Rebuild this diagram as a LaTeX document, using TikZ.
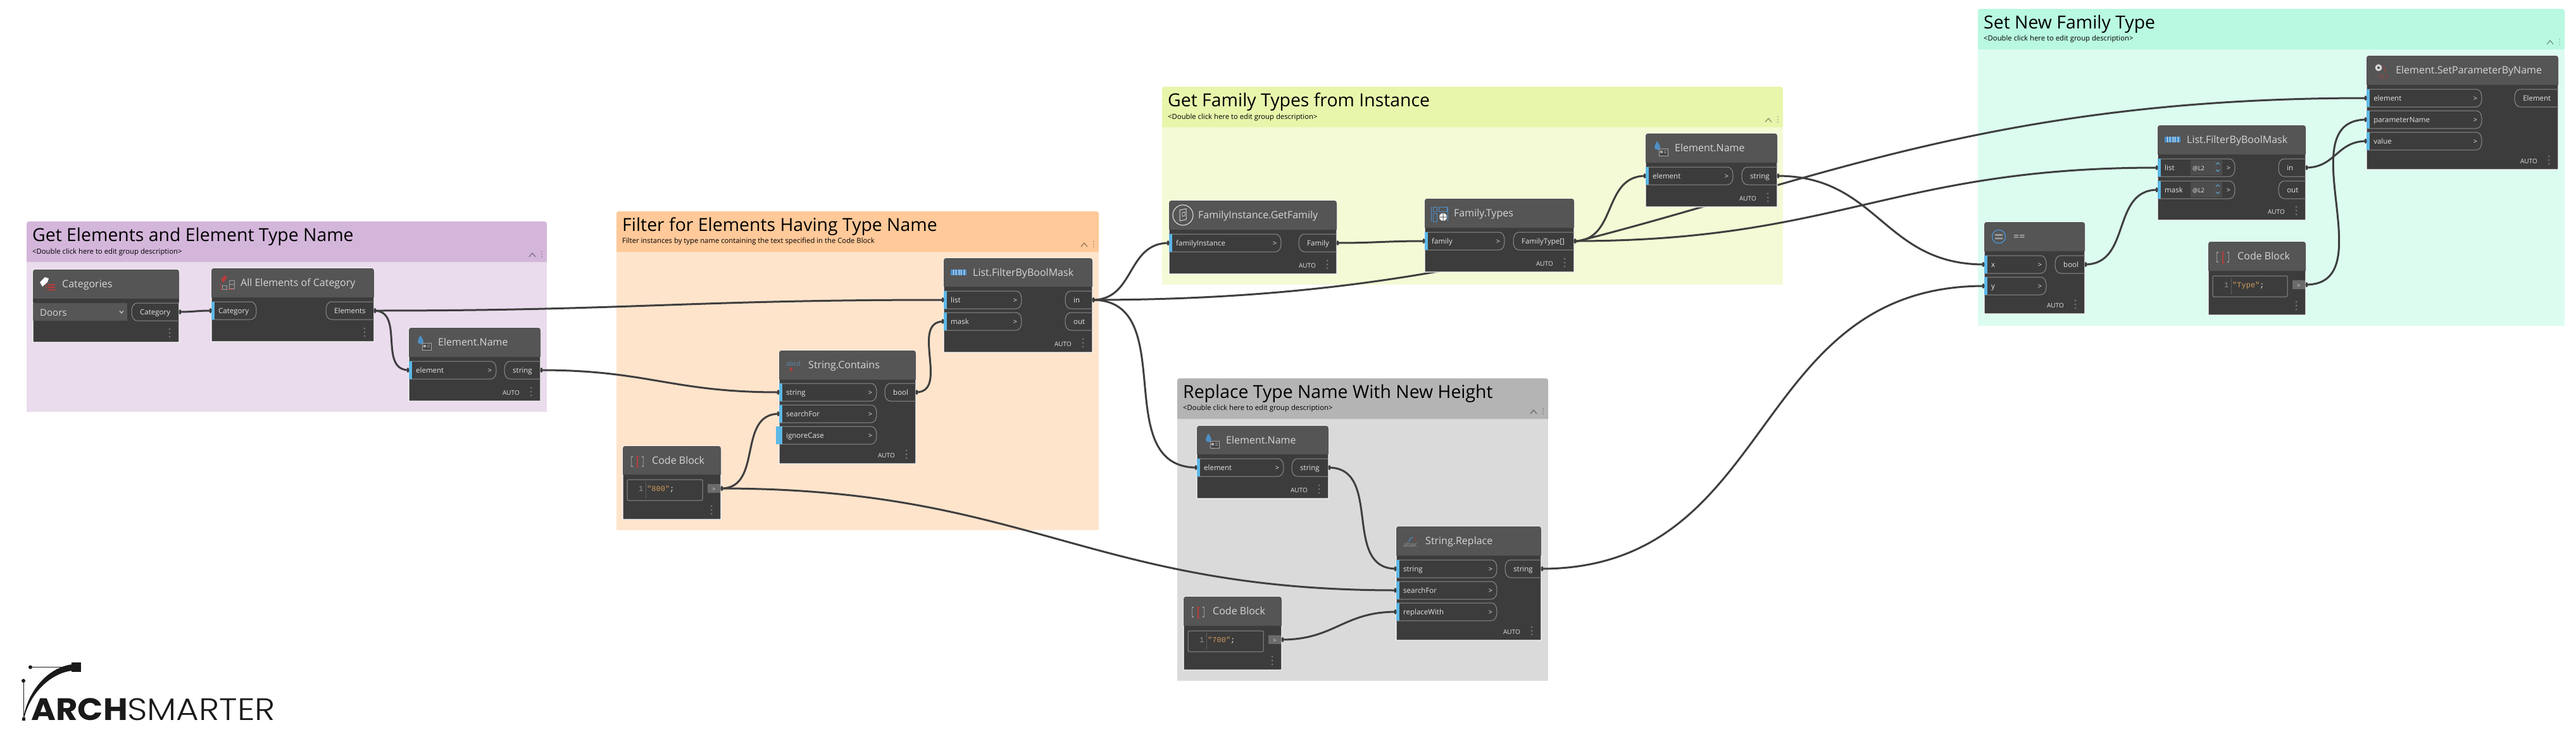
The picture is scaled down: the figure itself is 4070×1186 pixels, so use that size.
\documentclass[tikz,border=0pt]{standalone}
\usepackage{fontspec}
\usetikzlibrary{calc}
\setmainfont{Open Sans}
\newfontfamily\codefont{Liberation Mono}
\newfontfamily\logofont[FakeStretch=1.08]{Poppins}
\newfontfamily\logolight[FakeStretch=1.12]{Poppins Light}
\definecolor{bodyc}{HTML}{3C3C3C}
\definecolor{hdrc}{HTML}{555555}
\definecolor{wirec}{HTML}{3F3F3F}
\definecolor{pillc}{HTML}{8C8C8C}
\definecolor{portblue}{HTML}{5CB8E6}
\definecolor{titlec}{HTML}{D6D6D6}
\definecolor{labelc}{HTML}{E4E4E4}
\definecolor{dotc}{HTML}{777777}
\definecolor{codeorange}{HTML}{CE9A5E}
\definecolor{iconred}{HTML}{B83C3C}
\definecolor{iconblue}{HTML}{4C8FC9}
\pgfdeclarelayer{grp}\pgfdeclarelayer{wires}\pgfsetlayers{grp,wires,main}
\tikzset{
  wire/.style={draw=wirec,line width=3pt},
  ntitle/.style={anchor=base west,inner sep=0pt,text=titlec,font=\fontsize{16}{18}\selectfont},
  plabel/.style={anchor=base west,inner sep=0pt,text=labelc,font=\fontsize{11.5}{13}\selectfont},
  pchev/.style={anchor=base,inner sep=0pt,text=labelc,font=\fontsize{11}{13}\selectfont},
  autolbl/.style={anchor=base east,inner sep=0pt,text=labelc,font=\fontsize{10}{11}\selectfont},
  gtitle/.style={anchor=base west,inner sep=0pt,text=black,font=\fontsize{28.4}{31}\selectfont},
  gdesc/.style={anchor=base west,inner sep=0pt,text=black,font=\fontsize{11.3}{13}\selectfont},
  pill/.style={draw=pillc,line width=1pt},
  codetxt/.style={anchor=base west,inner sep=0pt,font=\codefont\fontsize{12}{14}\selectfont},
  icontxt/.style={anchor=base west,inner sep=0pt,font=\fontsize{10}{12}\selectfont},
}
% name, x1,y1,x2,y2, header bottom, title
\newcommand\dyn[7]{%
  \draw[white,line width=1.2pt,fill=bodyc] (#2,#5) -- (#2,{#3+8}) .. controls (#2,#3) .. ({#2+8},#3) -- ({#4-8},#3) .. controls (#4,#3) .. (#4,{#3+8}) -- (#4,#5) -- cycle;
  \fill[hdrc] (#2,#6) -- (#2,{#3+8}) .. controls (#2,#3) .. ({#2+8},#3) -- ({#4-8},#3) .. controls (#4,#3) .. (#4,{#3+8}) -- (#4,#6) -- cycle;
  \node[ntitle] (#1) at ({#2+46},{#3+28}) {#7};
}
% three dots at right edge; x2,y2
\newcommand\ndots[2]{\foreach \k in {-21,-15,-9}{\fill[dotc] ({#1-15},{#2+\k}) circle (1.5pt);}}
\newcommand\autotag[3]{\node[autolbl] (#1) at ({#2-33},{#3-10}) {AUTO};\ndots{#2}{#3}}
% port name, x1, y, xend, label (no chevron)
\newcommand\dInputPlain[5]{%
  \draw[pill] (#2,{#3-14}) -- ({#4-10},{#3-14}) .. controls ({#4-2},{#3-14}) and (#4,{#3-8}) .. (#4,#3) .. controls (#4,{#3+8}) and ({#4-2},{#3+14}) .. ({#4-10},{#3+14}) -- (#2,{#3+14});
  \fill[portblue] (#2,{#3-14}) rectangle ({#2+5},{#3+14});
  \coordinate (#1) at (#2,#3);
  \node[plabel] (#1lbl) at ({#2+11},{#3+4}) {#5};
}
\newcommand\dInput[5]{%
  \dInputPlain{#1}{#2}{#3}{#4}{#5}
  \node[pchev] (#1chev) at ({#4-10},{#3+4}) {>};
}
% port name, xstart, y, xright, label
\newcommand\dOutput[5]{%
  \draw[pill] (#4,{#3-14}) -- ({#2+10},{#3-14}) .. controls ({#2+2},{#3-14}) and (#2,{#3-8}) .. (#2,#3) .. controls (#2,{#3+8}) and ({#2+2},{#3+14}) .. ({#2+10},{#3+14}) -- (#4,{#3+14});
  \coordinate (#1) at (#4,#3);
  \node[plabel] (#1lbl) at ({#2+13},{#3+4}) {#5};
}
\newcommand\codeblock[7]{% name x1 y1 x2 y2 headerb text
  \dyn{#1}{#2}{#3}{#4}{#5}{#6}{Code Block}
  \draw[pillc,line width=1pt,fill=bodyc,rounded corners=2pt] ({#2+7},{#6+8}) rectangle ({#4-29},{#6+41});
  \node[codetxt,text=dotc!80!white] (#1num) at ({#2+25},{#6+26}) {1};
  \draw[dotc,line width=.8pt,densely dotted] ({#2+36},{#6+11}) -- ({#2+36},{#6+38});
  \node[codetxt] (#1code) at ({#2+38},{#6+26}) {\textcolor{codeorange}{"#7"}\textcolor{labelc}{;}};
  \fill[dotc!90!black] ({#4-21},{#6+15}) rectangle ({#4-1},{#6+29});
  \node[pchev,font=\fontsize{9}{11}\selectfont] (#1arrow) at ({#4-11},{#6+26}) {>};
  \coordinate (#1out) at (#4,{#6+22});
  \ndots{#4}{#5}
  \draw[titlec!70!black,line width=1.2pt] ({#2+16},{#3+17}) -- ({#2+13.5},{#3+17}) -- ({#2+13.5},{#3+32}) -- ({#2+16},{#3+32});
  \draw[titlec!70!black,line width=1.2pt] ({#2+30},{#3+17}) -- ({#2+32.5},{#3+17}) -- ({#2+32.5},{#3+32}) -- ({#2+30},{#3+32});
  \draw[iconred,line width=1.5pt] ({#2+23},{#3+16}) -- ({#2+23},{#3+33});
  \draw[iconred,line width=.8pt] ({#2+20.5},{#3+16}) -- ({#2+25.5},{#3+16}) ({#2+20.5},{#3+33}) -- ({#2+25.5},{#3+33});
}
\newcommand\grp[6]{% x1 y1 x2 hdrb y2 colour
  \begin{pgfonlayer}{grp}
  \fill[#6!50!white] (#1,#4) rectangle (#3,#5);
  \fill[#6] (#1,#4) -- (#1,{#2+8}) .. controls (#1,#2) .. ({#1+8},#2) -- ({#3-8},#2) .. controls (#3,#2) .. (#3,{#2+8}) -- (#3,#4) -- cycle;
  \end{pgfonlayer}
  \draw[#6!60!black,line width=1.3pt] ({#3-28},{#4-8}) -- ({#3-23},{#4-14}) -- ({#3-18},{#4-8});
  \foreach \k in {-16,-12,-8}{\fill[#6!60!black] ({#3-8},{#4+\k}) circle (.8pt);}
}
\newcommand\wirelink[3][45]{%
  \path let \p1=(#2),\p2=(#3) in \pgfextra{\pgfmathsetmacro\wc{#1*veclen((\x2-\x1)/100,(\y2-\y1)/100)}\global\let\wcg\wc};
  \begin{pgfonlayer}{wires}\draw[wire] (#2) .. controls ([xshift=\wcg pt]#2) and ([xshift=-\wcg pt]#3) .. (#3);\end{pgfonlayer}
  \fill[wirec] ([xshift=1.5pt]#2) ellipse (2pt and 4pt);
  \fill[wirec] ([xshift=-1.5pt]#3) ellipse (2pt and 4pt);
}
% icons, placed relative to a node's top-left
\newcommand\iconName[2]{\begin{scope}[shift={(#1,#2)}]
  \fill[iconblue] (18,12) .. controls (22,18) and (23,20) .. (23,22) .. controls (23,27) and (14,27) .. (14,22) .. controls (14,20) and (15,18) .. (18,12) -- cycle;
  \draw[titlec!80!black,line width=1pt,fill=hdrc!80!black] (21,24) rectangle (35,35);
  \fill[titlec!80!black] (23,27) rectangle (27,31);
  \draw[titlec!80!black,line width=.7pt] (29,27.5) -- (33,27.5) (29,30) -- (33,30);
\end{scope}}
\newcommand\iconBars[2]{\begin{scope}[shift={(#1,#2)}]
  \fill[iconblue] (11,18) rectangle (36,27);
  \foreach \k in {15,19,24,27,32}{\fill[white!85!iconblue] (\k,18) rectangle ({\k+1},27);}
\end{scope}}
\begin{document}
\begin{tikzpicture}[x=1pt,y=-1pt]
\useasboundingbox (0,0) rectangle (4070,1186);

% ---------- groups
\definecolor{gp}{HTML}{D4B6DB}\definecolor{go}{HTML}{FFC999}\definecolor{gl}{HTML}{E8F6AC}\definecolor{gg}{HTML}{B9F9E1}\definecolor{gy}{HTML}{B4B4B4}
\grp{42}{350}{864}{414}{651}{gp}
\node[gtitle] (t1) at (51,381) {Get Elements and Element Type Name};
\node[gdesc] (d1) at (51,401) {<Double click here to edit group description>};
\grp{974}{334}{1736}{398}{838}{go}
\node[gtitle] (t2) at (983,365) {Filter for Elements Having Type Name};
\node[gdesc] (d2) at (983,384) {Filter instances by type name containing the text specified in the Code Block};
\grp{1836}{137}{2817}{201}{450}{gl}
\node[gtitle] (t3) at (1845,168) {Get Family Types from Instance};
\node[gdesc] (d3) at (1845,188) {<Double click here to edit group description>};
\grp{3125}{14}{4052}{78}{515}{gg}
\node[gtitle] (t4) at (3134,45) {Set New Family Type};
\node[gdesc] (d4) at (3134,64) {<Double click here to edit group description>};
\grp{1860}{598}{2446}{662}{1076}{gy}
\node[gtitle] (t5) at (1869,629) {Replace Type Name With New Height};
\node[gdesc] (d5) at (1869,648) {<Double click here to edit group description>};

% ---------- Categories
\dyn{cat}{52}{426}{283}{541}{472}{Categories}
\fill[hdrc!70!black] (52,472) rectangle (283,478);
\fill[gray!70!black,opacity=.9] (52,479) rectangle (201,507);
\node[anchor=base west,inner sep=0pt,text=titlec,font=\fontsize{15}{17}\selectfont] (catval) at (63,499) {Doors};
\draw[labelc,line width=.9pt] (189,491) -- (192,495) -- (195,491);
\dOutput{catO}{208}{493}{283}{Category}
\ndots{283}{541}
\begin{scope}[shift={(52,426)}]
  \fill[white] (11,20) -- (19,12) -- (25,14) -- (23,20) -- (15,27) -- cycle;
  \fill[iconred] (20,23) rectangle (22,25) (24,23) rectangle (35,25) (20,27) rectangle (22,29) (24,27) rectangle (35,29) (20,31) rectangle (22,33) (24,31) rectangle (35,33);
\end{scope}

% ---------- All Elements of Category
\dyn{allel}{334}{424}{591}{540}{470}{All Elements of Category}
\dInputPlain{allI}{334}{491}{405}{Category}
\dOutput{allO}{515}{491}{591}{Elements}
\ndots{591}{540}
\begin{scope}[shift={(334,424)}]
  \fill[iconred] (15,18) -- (21,11) -- (25,14) -- (19,23) -- cycle;
  \draw[iconred,line width=.7pt] (14,24) -- (14,33) -- (36,33);
  \draw[titlec!75!black,line width=1pt] (28,19) rectangle (36,32);
  \draw[titlec!75!black,line width=.8pt] (28,25) -- (36,25);
  \draw[titlec!75!black,line width=.8pt] (17,27) rectangle (24,33);
\end{scope}

% ---------- Element.Name (first)
\dyn{en1}{646}{518}{854}{634}{564}{Element.Name}
\dInput{en1I}{646}{585}{784}{element}
\dOutput{en1O}{797}{585}{854}{string}
\autotag{en1auto}{854}{634}
\iconName{646}{518}

% ---------- List.FilterByBoolMask
\dyn{fb1}{1491}{408}{1726}{557}{453}{List.FilterByBoolMask}
\dInput{fb1L}{1491}{474}{1614}{list}
\dInput{fb1M}{1491}{508}{1614}{mask}
\dOutput{fb1In}{1683}{474}{1726}{in}
\dOutput{fb1Out}{1683}{508}{1726}{out}
\autotag{fb1auto}{1726}{557}
\iconBars{1491}{408}

% ---------- String.Contains
\dyn{sc}{1231}{554}{1447}{733}{600}{String.Contains}
\dInput{scS}{1231}{620}{1385}{string}
\dInput{scF}{1231}{654}{1385}{searchFor}
\fill[portblue] (1226,674) rectangle (1231,702);
\dInput{scC}{1231}{688}{1385}{ignoreCase}
\dOutput{scO}{1398}{620}{1447}{bool}
\autotag{scauto}{1447}{733}
\node[icontxt,text=iconblue!60!gray] (scicon) at (1242,578) {abcd};
\fill[iconred] (1250,580) -- (1253,586) -- (1247,586) -- cycle;

% ---------- Code Block 800
\codeblock{cb1}{984}{705}{1139}{821}{750}{800}

% ---------- FamilyInstance.GetFamily
\dyn{fi}{1847}{317}{2112}{433}{363}{FamilyInstance.GetFamily}
\dInput{fiI}{1847}{384}{2024}{familyInstance}
\dOutput{fiO}{2052}{384}{2112}{Family}
\autotag{fiauto}{2112}{433}
\begin{scope}[shift={(1847,317)}]
  \draw[titlec,line width=1.2pt] (22,23) circle (16pt);
  \draw[titlec,line width=1pt] (17,15) -- (27,13) -- (27,30) -- (17,32) -- cycle;
  \draw[titlec,line width=.8pt] (21,19) -- (25,18) -- (25,24) -- (21,25) -- cycle;
\end{scope}

% ---------- Family.Types
\dyn{ft}{2251}{314}{2487}{430}{360}{Family.Types}
\dInput{ftI}{2251}{381}{2377}{family}
\dOutput{ftO}{2391}{381}{2487}{FamilyType[]}
\autotag{ftauto}{2487}{430}
\begin{scope}[shift={(2251,314)}]
  \draw[iconblue,line width=1pt] (13,13) rectangle (19,20) (22,13) rectangle (35,20) (13,23) rectangle (19,36) (10,13) -- (10,36) (36,13) -- (36,36);
  \fill[white] (29,29) circle (6pt);
  \fill[hdrc] (28.5,22) rectangle (29.5,36) (23,28.5) rectangle (35,29.5);
\end{scope}

% ---------- Element.Name (second)
\dyn{en2}{2600}{211}{2808}{327}{257}{Element.Name}
\dInput{en2I}{2600}{278}{2738}{element}
\dOutput{en2O}{2752}{278}{2808}{string}
\autotag{en2auto}{2808}{327}
\iconName{2600}{211}

% ---------- Element.Name (third)
\dyn{en3}{1891}{673}{2099}{788}{718}{Element.Name}
\dInput{en3I}{1891}{739}{2028}{element}
\dOutput{en3O}{2041}{739}{2099}{string}
\autotag{en3auto}{2099}{788}
\iconName{1891}{673}

% ---------- String.Replace
\dyn{sr}{2206}{832}{2435}{1012}{878}{String.Replace}
\dInput{srS}{2206}{899}{2365}{string}
\dInput{srF}{2206}{933}{2365}{searchFor}
\dInput{srW}{2206}{967}{2365}{replaceWith}
\dOutput{srO}{2378}{899}{2435}{string}
\autotag{srauto}{2435}{1012}
\node[icontxt,text=titlec!70!black] (sricon) at (2217,864) {abac};
\node[icontxt,text=iconred,font=\fontsize{8}{9}\selectfont] (sriconz) at (2234,854) {z};
\draw[iconblue,line width=1.2pt] (2226,856) .. controls (2227,852) and (2229,850) .. (2232,849);

% ---------- Code Block 700
\codeblock{cb2}{1870}{943}{2025}{1059}{989}{700}

% ---------- ==
\dyn{eq}{3135}{351}{3294}{496}{397}{==}
\dInput{eqX}{3135}{418}{3233}{x}
\dInput{eqY}{3135}{452}{3233}{y}
\dOutput{eqO}{3247}{418}{3294}{bool}
\autotag{eqauto}{3294}{496}
\draw[iconblue,line width=1.4pt] (3158,374) circle (10.5pt);
\fill[dotc!70!white] (3152,370) rectangle (3164,372.5) (3152,375.5) rectangle (3164,378);

% ---------- List.FilterByBoolMask (second)
\dyn{fb2}{3409}{198}{3643}{348}{244}{List.FilterByBoolMask}
\dInput{fb2L}{3409}{265}{3531}{list}
\dInput{fb2M}{3409}{300}{3531}{mask}
\foreach \yy/\nm in {265/a,300/b}{
  \fill[hdrc!90!black] (3461,\yy-12) rectangle (3511,\yy+12);
  \node[plabel,font=\fontsize{9.5}{11}\selectfont] (fb2lace\nm) at (3464,\yy+4) {@L2};
  \draw[dotc!70!black,line width=.8pt] (3498,\yy-12) -- (3498,\yy+12);
  \draw[portblue,line width=.8pt] (3501,\yy-5) -- (3504,\yy-8) -- (3507,\yy-5) (3501,\yy+3) -- (3504,\yy+6) -- (3507,\yy+3);
}
\dOutput{fb2In}{3600}{265}{3643}{in}
\dOutput{fb2Out}{3600}{300}{3643}{out}
\autotag{fb2auto}{3643}{348}
\iconBars{3409}{198}

% ---------- Code Block Type
\codeblock{cb3}{3489}{382}{3643}{498}{428}{Type}

% ---------- Element.SetParameterByName
\dyn{sp}{3739}{88}{4042}{268}{134}{Element.SetParameterByName}
\dInput{spE}{3739}{155}{3921}{element}
\dInput{spP}{3739}{189}{3921}{parameterName}
\dInput{spV}{3739}{223}{3921}{value}
\dOutput{spO}{3973}{155}{4042}{Element}
\autotag{spauto}{4042}{268}
\fill[titlec] (3758,107) circle (5.5pt);
\fill[hdrc] (3758,107) circle (2pt);
\draw[iconred,line width=.8pt] (3764,104) .. controls (3768,106) and (3769,110) .. (3768,114);
\node[icontxt,text=iconred,font=\fontsize{8}{9}\selectfont] (spicon) at (3757,124) {12.3};

% ---------- wires
\wirelink{catO}{allI}
\wirelink{allO}{en1I}
\wirelink{allO}{fb1L}
\wirelink{en1O}{scS}
\wirelink{cb1out}{scF}
\wirelink{cb1out}{srF}
\wirelink{scO}{fb1M}
\wirelink{fb1In}{fiI}
\wirelink{fb1In}{en3I}
\wirelink{fb1In}{spE}
\wirelink{fiO}{ftI}
\wirelink{ftO}{en2I}
\wirelink{ftO}{fb2L}
\wirelink{en2O}{eqX}
\wirelink{srO}{eqY}
\wirelink{eqO}{fb2M}
\wirelink{fb2In}{spV}
\wirelink{cb3out}{spP}
\wirelink{en3O}{srS}
\wirelink{cb2out}{srW}

% ---------- logo
\definecolor{logoc}{HTML}{1A1A1A}
\coordinate (lgsq) at (120,1054.5);
\coordinate (lgdot) at (48,1054.5);
\coordinate (lgdot2) at (37,1076);
\coordinate (lgfoot) at (37,1136.5);
\fill[logoc] (113,1047) rectangle (127.5,1062);
\fill[logoc] (lgdot) circle (3pt);
\fill[logoc] (lgdot2) circle (3pt);
\draw[logoc,line width=1pt] (lgdot) -- (lgsq);
\draw[logoc,line width=1pt] (lgdot2) -- (lgfoot);
\fill[logoc] (34.5,1134) rectangle (39.5,1139);
\fill[logoc] (37,1135) .. controls (42,1100) and (70,1056) .. (114,1050) -- (114,1060) .. controls (80,1064) and (48,1095) .. (38,1135) -- cycle;
\node[anchor=base west,inner sep=0pt,text=logoc,font=\logofont\bfseries\fontsize{49}{52}\selectfont] (logoa) at (49,1138) {ARCH};
\node[anchor=base west,inner sep=0pt,text=logoc,font=\logolight\fontsize{49}{52}\selectfont] (logob) at (201,1138) {SMARTER};
\end{tikzpicture}
\end{document}
